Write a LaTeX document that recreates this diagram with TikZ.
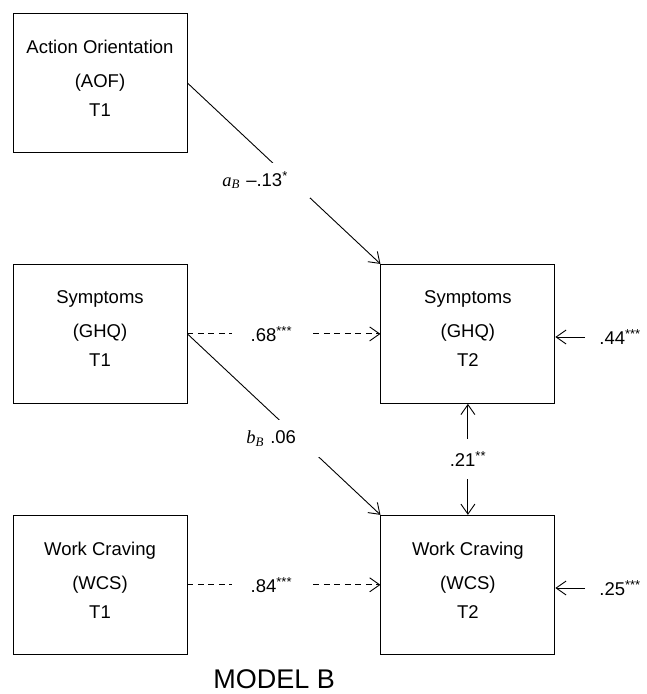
\documentclass[tikz,border=0pt]{standalone}
\usepackage{fontspec}
\setmainfont{Liberation Sans}
\newfontfamily\lblserif{Liberation Serif}
\usetikzlibrary{arrows.meta,positioning}

\begin{document}
\begin{tikzpicture}[x=1pt,y=-1pt,node distance=111pt and 193pt,>={Straight Barb[length=10pt,width=14pt]},line width=0.9pt,font=\fontsize{18.5}{29}\selectfont]
    \tikzstyle{var}=[rectangle,draw,align=center,minimum width=174pt,minimum height=139pt,text depth=10pt]
    \tikzstyle{coef}=[inner sep=1pt]
    \tikzstyle{gap}=[coef,fill=white,align=left,anchor=west]
    \useasboundingbox (0,0) rectangle (646,694);
    \node[var] (aof) at (100,83) {Action Orientation\\[5pt](AOF)\\T1};
    \node[var,below=of aof] (ghq1) {Symptoms\\[5pt](GHQ)\\T1};
    \node[var,below=of ghq1] (wcs1) {Work Craving\\[5pt](WCS)\\T1};
    \node[var,right=of ghq1] (ghq2) {Symptoms\\[5pt](GHQ)\\T2};
    \node[var,right=of wcs1] (wcs2) {Work Craving\\[5pt](WCS)\\T2};
    % stability paths
    \draw[->,dash pattern=on 6pt off 4.5pt] (ghq1) -- node[coef,fill=white,inner xsep=19pt,pos=0.435]{.68\textsuperscript{***}} (ghq2);
    \draw[->,dash pattern=on 6pt off 4.5pt] (wcs1) -- node[coef,fill=white,inner xsep=19pt,pos=0.435]{.84\textsuperscript{***}} (wcs2);
    % cross paths
    \draw[->] (aof.east) -- (ghq2.north west);
    \node[gap,text width=87pt,minimum height=35pt] (pa) at (221,180) {{\lblserif\itshape a\textsubscript{B}} \textendash.13\textsuperscript{*}};
    \draw[->] (ghq1.east) -- (wcs2.north west);
    \node[gap,text width=73pt,minimum height=37pt] (pb) at (245,438.5) {{\lblserif\itshape b\textsubscript{B}} .06};
    % residuals
    \node[coef,anchor=west] (eg) at (598,337) {.44\textsuperscript{***}};
    \node[coef,anchor=west] (ew) at (598,588) {.25\textsuperscript{***}};
    \draw[->] ([xshift=-13pt]eg.west) -- (eg.west -| ghq2.east);
    \draw[->] ([xshift=-13pt]ew.west) -- (ew.west -| wcs2.east);
    % correlation at T2
    \draw[<->] (ghq2.south) -- node[coef,fill=white,minimum height=40pt]{.21\textsuperscript{**}} (wcs2.north);
    \node[anchor=base west,inner sep=0pt,font=\fontsize{27}{34}\selectfont] (title) at (213,688) {MODEL B};
\end{tikzpicture}
\end{document}
